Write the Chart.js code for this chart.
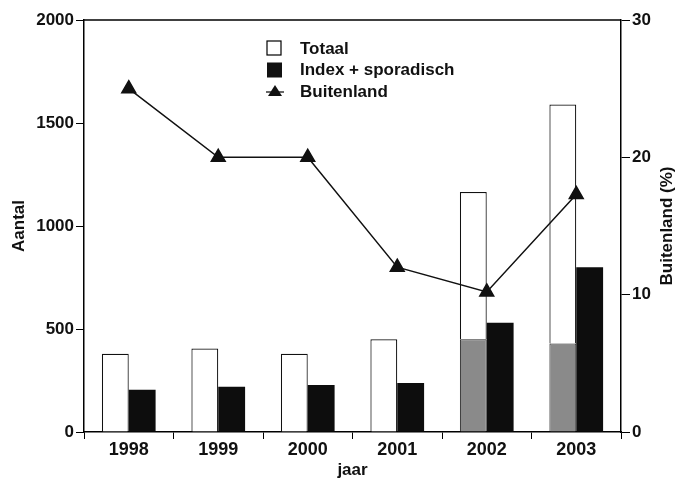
<!DOCTYPE html>
<html>
<head>
<meta charset="utf-8">
<script src="https://cdn.jsdelivr.net/npm/chart.js@4"></script>
<style>
  html, body { margin: 0; padding: 0; background: #fff; }
  #wrap { width: 681px; height: 481px; }
</style>
</head>
<body>
<div id="wrap"><canvas id="chart"></canvas></div>
<script>
// data
const jaren = ['1998', '1999', '2000', '2001', '2002', '2003'];
const totaal = [380, 405, 380, 450, 1165, 1590];
const grijsDeel = [null, null, null, null, 450, 430];   // grijze onderkant van de totaal-staaf
const indexSporadisch = [205, 220, 228, 238, 530, 800];
const buitenland = [25, 20, 20, 12, 10.2, 17.3];
const aantalTicks = [0, 500, 1000, 1500, 2000];
const procentTicks = [0, 10, 20, 30];

const FONT = '"Liberation Sans", Arial, sans-serif';

// legenda binnen het plotvlak, bovenaan + bovenrand + rechter astitel
const extras = {
    id: 'extras',
    afterDraw(chart) {
        const c = chart.ctx;
        const a = chart.chartArea;
        c.save();
        // bovenrand
        c.strokeStyle = '#000';
        c.lineWidth = 1.5;
        c.beginPath();
        c.moveTo(a.left, a.top);
        c.lineTo(a.right, a.top);
        c.stroke();

        // legenda
        const items = [
            { label: chart.data.datasets[1].label, kind: 'open' },
            { label: chart.data.datasets[2].label, kind: 'fill' },
            { label: chart.data.datasets[3].label, kind: 'tri' }
        ];
        const x0 = 267, y0 = 48, step = 21.5;
        c.font = 'bold 17px ' + FONT;
        c.textBaseline = 'middle';
        c.fillStyle = '#111';
        items.forEach((it, i) => {
            const y = y0 + i * step;
            if (it.kind === 'open') {
                c.fillStyle = '#fff';
                c.fillRect(x0, y - 7, 14, 14);
                c.lineWidth = 1.2;
                c.strokeRect(x0, y - 7, 14, 14);
            } else if (it.kind === 'fill') {
                c.fillStyle = '#111';
                c.fillRect(x0, y - 7, 15, 15);
            } else {
                c.beginPath();
                c.moveTo(x0 - 1, y + 1);
                c.lineTo(x0 + 17, y + 1);
                c.lineWidth = 1.2;
                c.stroke();
                c.fillStyle = '#111';
                c.beginPath();
                c.moveTo(x0 + 8, y - 6);
                c.lineTo(x0 + 15, y + 5);
                c.lineTo(x0 + 1, y + 5);
                c.closePath();
                c.fill();
            }
            c.fillStyle = '#111';
            c.textAlign = 'left';
            c.fillText(it.label, 300, y + 1);
        });

        // rechter astitel, van onder naar boven
        c.translate(667, (a.top + a.bottom) / 2);
        c.rotate(-Math.PI / 2);
        c.textAlign = 'center';
        c.font = 'bold 17px ' + FONT;
        c.fillText('Buitenland (%)', 0, 0);
        c.restore();
    }
};

const ctx = document.getElementById('chart').getContext('2d');

new Chart(ctx, {
    data: {
        labels: jaren,
        datasets: [
            {
                type: 'bar',
                label: 'grijs',
                data: grijsDeel,
                stack: 'a',
                backgroundColor: '#8a8a8a',
                borderColor: '#222',
                borderWidth: 1,
                order: 2
            },
            {
                type: 'bar',
                label: 'Totaal',
                data: totaal.map((v, i) => v - (grijsDeel[i] || 0)),
                stack: 'a',
                backgroundColor: '#fff',
                borderColor: '#111',
                borderWidth: 1.2,
                order: 2
            },
            {
                type: 'bar',
                label: 'Index + sporadisch',
                data: indexSporadisch,
                stack: 'b',
                backgroundColor: '#0d0d0d',
                borderWidth: 0,
                order: 2
            },
            {
                type: 'line',
                label: 'Buitenland',
                data: buitenland,
                yAxisID: 'y1',
                borderColor: '#111',
                borderWidth: 1.5,
                pointStyle: 'triangle',
                pointRadius: 8,
                pointBackgroundColor: '#111',
                pointBorderColor: '#111',
                tension: 0,
                order: 0
            }
        ]
    },
    options: {
        responsive: true,
        maintainAspectRatio: false,
        animation: false,
        layout: { padding: { top: 20, left: 0, right: 0, bottom: 0 } },
        datasets: {
            bar: { categoryPercentage: 0.6, barPercentage: 1 }
        },
        scales: {
            x: {
                stacked: true,
                offset: true,
                afterFit: s => { s.height = 49; },
                grid: {
                    offset: true,
                    drawOnChartArea: false,
                    tickLength: 7,
                    color: '#000'
                },
                border: { color: '#000', width: 1.5 },
                ticks: {
                    color: '#111',
                    padding: 0,
                    font: { family: FONT, size: 18, weight: 'bold' }
                },
                title: {
                    display: true,
                    text: 'jaar',
                    color: '#111',
                    padding: { top: 3, bottom: 0 },
                    font: { family: FONT, size: 17, weight: 'bold' }
                }
            },
            y: {
                stacked: true,
                min: 0,
                max: 2000,
                afterBuildTicks: s => { s.ticks = aantalTicks.map(v => ({ value: v })); },
                afterFit: s => { s.width = 84; },
                grid: {
                    drawOnChartArea: false,
                    tickLength: 8,
                    color: '#000'
                },
                border: { color: '#000', width: 1.5 },
                ticks: {
                    color: '#111',
                    padding: 2,
                    callback: v => String(v),
                    font: { family: FONT, size: 17, weight: 'bold' }
                },
                title: {
                    display: true,
                    text: 'Aantal',
                    color: '#111',
                    padding: { top: 9, bottom: 0 },
                    font: { family: FONT, size: 17, weight: 'bold' }
                }
            },
            y1: {
                position: 'right',
                min: 0,
                max: 30,
                afterBuildTicks: s => { s.ticks = procentTicks.map(v => ({ value: v })); },
                afterFit: s => { s.width = 60; },
                grid: {
                    drawOnChartArea: false,
                    tickLength: 9,
                    color: '#000'
                },
                border: { color: '#000', width: 1.5 },
                ticks: {
                    color: '#111',
                    padding: 2,
                    callback: v => String(v),
                    font: { family: FONT, size: 17, weight: 'bold' }
                }
            }
        },
        plugins: {
            legend: { display: false },
            tooltip: { enabled: false }
        }
    },
    plugins: [extras]
});
</script>
</body>
</html>
